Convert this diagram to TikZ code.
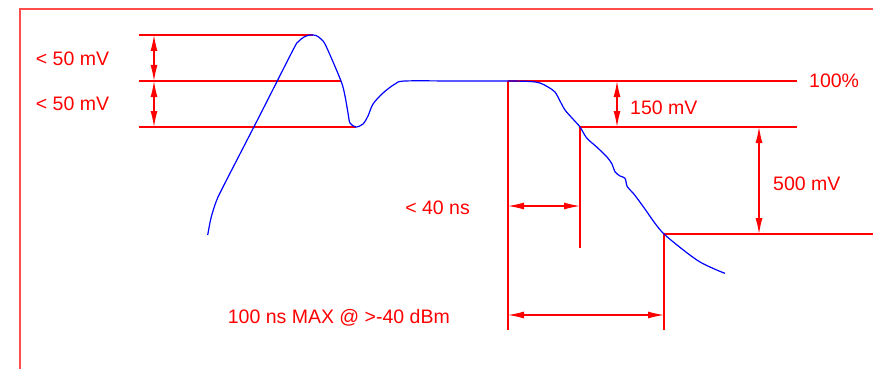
\documentclass[tikz,border=0pt]{standalone}
\usepackage{fontspec}
\setmainfont{Liberation Sans}
\usetikzlibrary{positioning, arrows.meta}

\begin{document}
\begin{tikzpicture}[x=1pt, y=-1pt]

	% Styles
	\tikzset{
		frame/.style={draw=red!70, line width=1.6pt},
		guide/.style={draw=red, line width=1.2pt},
		dim/.style={draw=red, line width=1.2pt,
			{Latex[length=16pt,width=7pt]}-{Latex[length=16pt,width=7pt]}},
		wave/.style={draw=blue, line width=1.2pt},
		lbl/.style={text=red, inner sep=0pt, font=\fontsize{19.5}{23}\selectfont}
	}

	\useasboundingbox (0,0) rectangle (873,369);

	% Frame
	\draw[frame] (20,369) -- (20,9) -- (873,9);

	% Overshoot levels
	\coordinate (hi) at (139,35);
	\coordinate (mid) at (139,81);
	\coordinate (lo) at (139,127);
	\coordinate (peak) at (313,35);
	\coordinate (knee) at (341,81);
	\coordinate (dip) at (356,127);
	\draw[guide] (hi) -- (peak);
	\draw[guide] (mid) -- (knee);
	\draw[guide] (lo) -- (dip);

	\coordinate (ahi) at (154,35);
	\coordinate (amid) at (154,81);
	\coordinate (alo) at (154,127);
	\draw[dim] (ahi) -- (amid);
	\draw[dim] (amid) -- (alo);

	\node[lbl, anchor=base] (over) at (72.5,65.7) {< 50 mV};
	\node[lbl, anchor=base] (under) at (72.5,110.7) {< 50 mV};

	% Falling edge levels
	\coordinate (start) at (508,81);
	\coordinate (full) at (797,81);
	\coordinate (drop) at (580,127);
	\coordinate (dropend) at (797,127);
	\coordinate (low) at (664,234);
	\coordinate (lowend) at (873,234);
	\draw[guide] (start) -- (full);
	\draw[guide] (drop) -- (dropend);
	\draw[guide] (low) -- (lowend);

	\coordinate (startfoot) at (508,330);
	\coordinate (dropfoot) at (580,248);
	\coordinate (lowfoot) at (664,330);
	\draw[guide] (start) -- (startfoot);
	\draw[guide] (drop) -- (dropfoot);
	\draw[guide] (low) -- (lowfoot);

	% Dimension arrows
	\coordinate (a150top) at (617,81);
	\coordinate (a150bot) at (617,127);
	\coordinate (a500top) at (759,127);
	\coordinate (a500bot) at (759,234);
	\coordinate (a40l) at (508,206);
	\coordinate (a40r) at (580,206);
	\coordinate (a100l) at (508,315);
	\coordinate (a100r) at (664,315);
	\draw[dim] (a150top) -- (a150bot);
	\draw[dim] (a500top) -- (a500bot);
	\draw[dim] (a40l) -- (a40r);
	\draw[dim] (a100l) -- (a100r);

	\node[lbl, anchor=base west] (pct) at (809,87.3) {100\%};
	\node[lbl, anchor=base west] (mv150) at (630,114) {150 mV};
	\node[lbl, anchor=base west] (mv500) at (773,190.7) {500 mV};
	\node[lbl, anchor=base east] (ns40) at (470,214) {< 40 ns};
	\node[lbl, anchor=base east] (ns100) at (450,323.3) {100 ns MAX @ >-40 dBm};

	% Waveform
	\draw[wave] plot[smooth, tension=0.5] coordinates {
		(207.7,235) (211,218) (216,202) (223,187) (260,115) (293,50)
		(298,42) (304,37) (310,35) (316,35.5) (321,39) (326,46)
		(341,81) (345,96) (348,113)
		(350,123) (356,127) (363,124) (368,116) (373,104) (383,93)
		(395,84) (405,81) (456,81) (508,81)
		(530,81.5) (540,83) (548,87) (555,92) (560,101) (565,110) (572,118)
		(580,127) (586.7,138) (596.7,147) (606.7,156.7) (612,164)
		(615,171.7) (620,176) (625,178.3) (627.3,186.7) (633.3,193.3)
		(643.3,206.7) (655,223.3) (664.3,234.3) (683.3,250) (700,262)
		(716.7,270) (725,273.3)};

\end{tikzpicture}
\end{document}
